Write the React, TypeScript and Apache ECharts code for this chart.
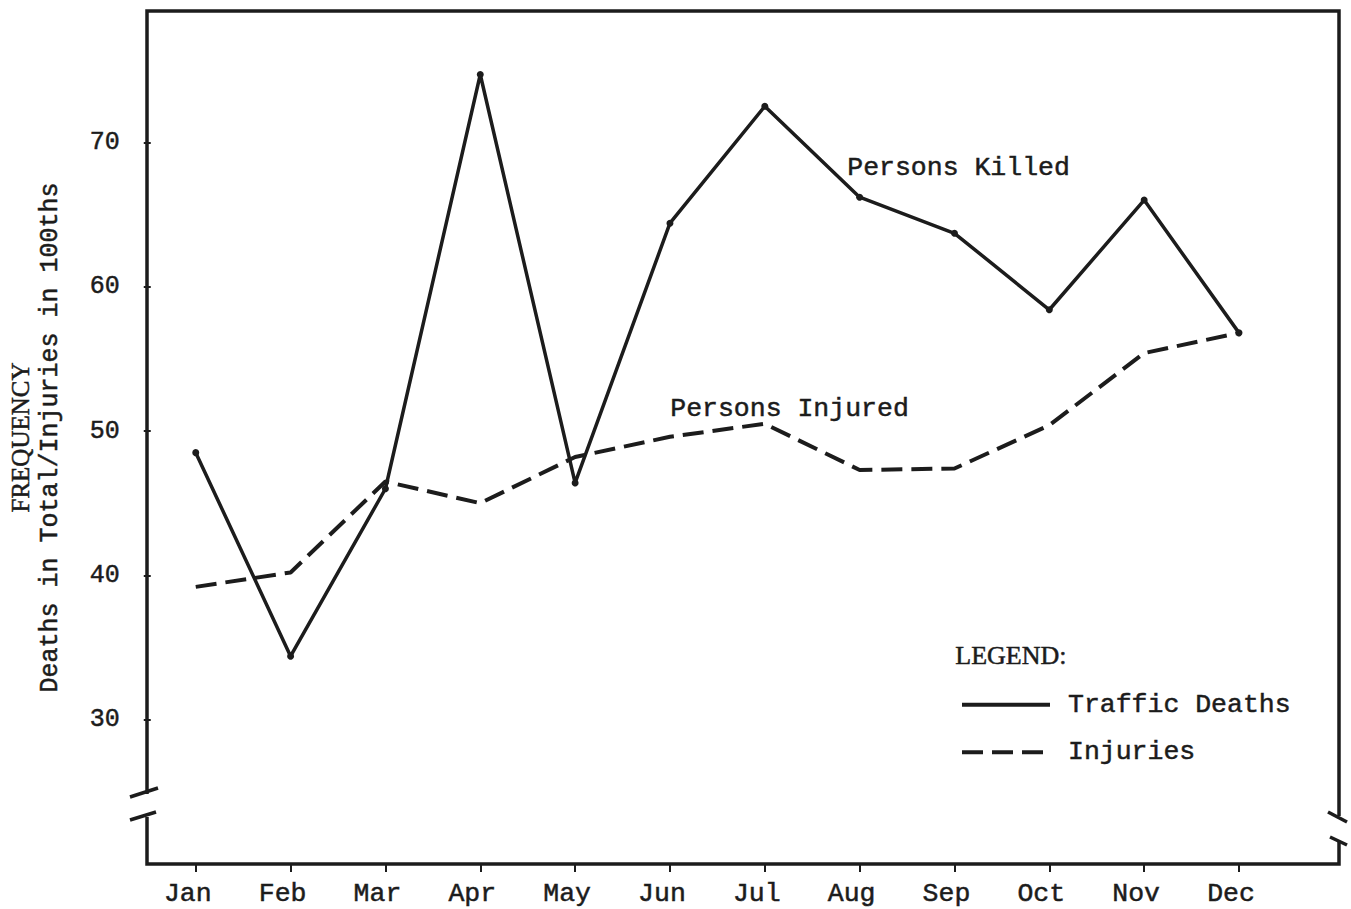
import React, { useEffect, useRef } from "react";
import * as echarts from "echarts";

const months = ["Jan", "Feb", "Mar", "Apr", "May", "Jun", "Jul", "Aug", "Sep", "Oct", "Nov", "Dec"];
const trafficDeaths = [48.5, 34.4, 46.0, 74.7, 46.4, 64.4, 72.5, 66.2, 63.7, 58.4, 66.0, 56.8];
const injuries = [39.2, 40.2, 46.5, 45.0, 48.2, 49.6, 50.5, 47.3, 47.4, 50.4, 55.4, 56.8];
const yTickValues = [30, 40, 50, 60, 70];

const MONO = "'Liberation Mono', 'Courier New', monospace";
const SERIF = "'Liberation Serif', 'Times New Roman', serif";
const INK = "#1c1c1c";
const TB = { textBorderColor: INK, textBorderWidth: 0.5 };

export default function App() {
  const ref = useRef<HTMLDivElement>(null);

  useEffect(() => {
    if (!ref.current) return;
    const chart = echarts.init(ref.current, undefined, { renderer: "svg" });

    const L = 147, R = 1339, T = 11, B = 864;
    const frameStyle = { stroke: INK, lineWidth: 3.5, fill: "none" };

    chart.setOption({
      animation: false,
      backgroundColor: "#ffffff",
      grid: { left: 192, right: 112, top: T, bottom: 909 - B, containLabel: false },
      xAxis: {
        type: "category",
        data: months,
        boundaryGap: false,
        axisLine: { show: false },
        axisTick: { show: true, length: 8, lineStyle: { color: INK, width: 2 } },
        axisLabel: {
          interval: 0,
          margin: 16,
          fontFamily: MONO,
          fontSize: 26.5,
          color: INK,
          padding: [0, 16, 0, 0],
          ...TB,
        },
        splitLine: { show: false },
      },
      yAxis: {
        type: "value",
        min: 20,
        max: 79.1,
        interval: 10,
        offset: 192 - L,
        axisLine: { show: false },
        axisTick: { show: true, length: 7, lineStyle: { color: INK, width: 2 } },
        axisLabel: {
          margin: 31,
          fontFamily: MONO,
          fontSize: 25,
          color: INK,
          showMinLabel: false,
          showMaxLabel: false,
          ...TB,
          formatter: (v: number) =>
            yTickValues.includes(Math.round(v)) && Math.abs(v - Math.round(v)) < 1e-6 ? String(v) : "",
        },
        splitLine: { show: false },
        name: "{a|FREQUENCY}\n{b|Deaths in Total/Injuries in 100ths}",
        nameLocation: "middle",
        nameRotate: 90,
        nameGap: 85,
        nameTextStyle: {
          color: INK,
          rich: {
            a: { fontFamily: SERIF, fontSize: 25, lineHeight: 30, color: INK, ...TB },
            b: { fontFamily: MONO, fontSize: 25, lineHeight: 30, color: INK, ...TB },
          },
        },
      },
      legend: {
        orient: "vertical",
        left: 955,
        top: 686,
        itemWidth: 88,
        itemHeight: 5,
        itemGap: 20,
        itemStyle: { opacity: 0 },
        lineStyle: { width: 4 },
        textStyle: { fontFamily: MONO, fontSize: 26.5, color: INK, padding: [0, 0, 0, 13], ...TB },
        data: ["Traffic Deaths", "Injuries"],
      },
      series: [
        {
          name: "Traffic Deaths",
          type: "line",
          data: trafficDeaths,
          symbol: "circle",
          symbolSize: 7,
          itemStyle: { color: INK },
          lineStyle: { color: INK, width: 3.5, type: "solid" },
        },
        {
          name: "Injuries",
          type: "line",
          data: injuries,
          symbol: "none",
          itemStyle: { color: INK },
          lineStyle: { color: INK, width: 4, type: [21, 9] },
        },
      ],
      graphic: [
        { type: "polyline", shape: { points: [[L, 794], [L, T], [R, T], [R, 816]] }, style: frameStyle, silent: true },
        { type: "polyline", shape: { points: [[L, 817], [L, B], [R, B], [R, 841]] }, style: frameStyle, silent: true },
        { type: "line", shape: { x1: 130, y1: 797, x2: 158, y2: 788 }, style: { stroke: INK, lineWidth: 3.5 } },
        { type: "line", shape: { x1: 130, y1: 820, x2: 156, y2: 812 }, style: { stroke: INK, lineWidth: 3.5 } },
        { type: "line", shape: { x1: 1328, y1: 812, x2: 1347, y2: 822 }, style: { stroke: INK, lineWidth: 3.5 } },
        { type: "line", shape: { x1: 1330, y1: 837, x2: 1347, y2: 845 }, style: { stroke: INK, lineWidth: 3.5 } },
        {
          type: "text",
          left: 847,
          top: 154,
          style: { text: "Persons Killed", font: `26.5px ${MONO}`, fill: INK, stroke: INK, lineWidth: 0.5 },
        },
        {
          type: "text",
          left: 670,
          top: 395,
          style: { text: "Persons Injured", font: `26.5px ${MONO}`, fill: INK, stroke: INK, lineWidth: 0.5 },
        },
        {
          type: "text",
          left: 955,
          top: 642,
          style: { text: "LEGEND:", font: `26px ${SERIF}`, fill: INK, stroke: INK, lineWidth: 0.5 },
        },
      ],
    });

    return () => chart.dispose();
  }, []);

  return (
    <div
      ref={ref}
      style={{ position: "fixed", left: 0, top: 0, width: 1351, height: 909, background: "#fff" }}
    />
  );
}
